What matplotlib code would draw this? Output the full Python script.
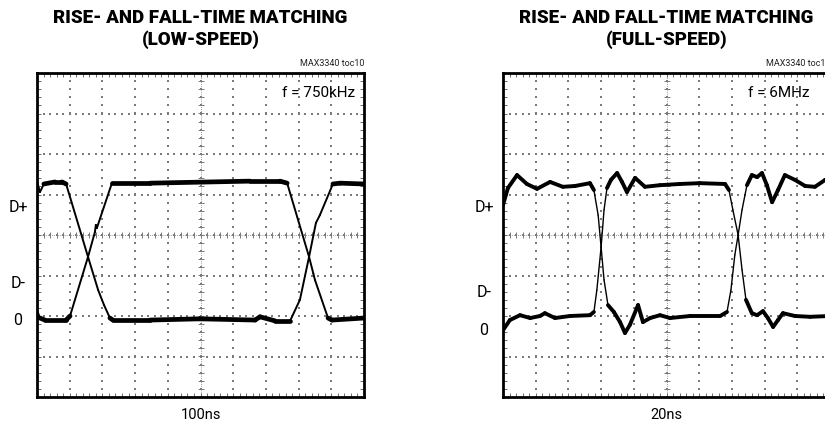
import numpy as np
import matplotlib
matplotlib.use("Agg")
import matplotlib.pyplot as plt
from matplotlib.ticker import MultipleLocator
from matplotlib.collections import LineCollection

plt.rcParams['font.family'] = ['Roboto', 'DejaVu Sans']

# --- data (x in divisions 0..10, y in divisions -4..4) ---
low_a_x = [0, 0.09, 0.21, 0.55, 0.76, 0.89, 1.56, 1.87, 2.05, 2.23, 2.32, 3.46, 4.98, 6.67, 6.82,
           7.28, 7.74, 8.04, 8.32, 8.53, 8.65, 9.05, 9.27, 10]
low_a_y = [1.33, 1.06, 1.26, 1.31, 1.31, 1.26, -0.54, -1.36, -1.73, -2.05, -2.10, -2.10, -2.07, -2.10, -2.02,
           -2.12, -2.12, -1.60, -0.54, 0.30, 0.49, 1.26, 1.28, 1.26]
low_b_x = [0, 0.09, 0.24, 0.89, 1.01, 1.56, 1.77, 1.80, 1.83, 2.29, 3.46, 6.51, 7.43, 7.65, 8.32,
           8.45, 8.50, 8.90, 9.02, 10]
low_b_y = [-1.85, -2.05, -2.10, -2.10, -2.0, -0.54, 0.07, 0.25, 0.17, 1.28, 1.28, 1.33, 1.33, 1.28, -0.54,
           -0.95, -1.11, -2.05, -2.10, -2.05]

full_a_x = [0, 0.15, 0.43, 0.73, 1.04, 1.44, 1.83, 2.20, 2.66, 2.78, 2.91, 3.00, 3.09, 3.21, 3.39, 3.58,
            3.73, 3.88, 4.13, 4.28, 4.50, 4.80, 5.11, 5.72, 6.64, 6.85, 6.97, 7.09, 7.19, 7.31, 7.46,
            7.61, 7.77, 7.92, 8.07, 8.23, 8.41, 8.62, 8.93, 9.24, 9.54, 9.85, 10]
full_a_y = [0.74, 1.16, 1.48, 1.26, 1.14, 1.31, 1.19, 1.21, 1.28, 1.11, 0.49, -0.30, -1.11, -1.73, -1.90,
            -2.15, -2.42, -2.22, -1.73, -2.15, -2.05, -1.98, -2.05, -2.0, -2.0, -1.90, -1.36, -0.49,
            0.0, 0.62, 1.23, 1.48, 1.43, 1.53, 1.23, 0.81, 1.11, 1.48, 1.36, 1.21, 1.19, 1.36, 1.31]
full_b_x = [0, 0.21, 0.52, 0.83, 1.13, 1.28, 1.59, 2.05, 2.66, 2.78, 2.87, 3.00, 3.09, 3.18, 3.30, 3.49,
            3.64, 3.79, 4.04, 4.34, 4.80, 5.41, 6.02, 6.79, 6.91, 7.03, 7.19, 7.31, 7.43, 7.61, 7.77,
            7.95, 8.10, 8.26, 8.41, 8.56, 8.93, 9.39, 10]
full_b_y = [-2.35, -2.10, -1.98, -2.05, -2.0, -1.93, -2.05, -2.0, -1.98, -1.90, -1.36, -0.30, 0.62, 1.16,
            1.36, 1.53, 1.31, 1.06, 1.41, 1.19, 1.23, 1.26, 1.28, 1.26, 1.11, 0.62, 0.0, -0.86, -1.60,
            -1.93, -1.98, -1.88, -2.05, -2.27, -2.10, -1.93, -2.0, -2.02, -2.0]

level_labels = ["D+", "D-", "0"]
low_label_y = [0.67, -1.19, -2.12]
full_label_y = [0.69, -1.43, -2.35]

panels = [
    dict(title="RISE- AND FALL-TIME MATCHING\n(LOW-SPEED)", tag="MAX3340 toc10", freq="f = 750kHz",
         scale="100ns", traces=[(low_a_x, low_a_y), (low_b_x, low_b_y)], labels_y=low_label_y,
         left=37, steep=1.5, thick=3.4, thin=1.4),
    dict(title="RISE- AND FALL-TIME MATCHING\n(FULL-SPEED)", tag="MAX3340 toc11", freq="f = 6MHz",
         scale="20ns", traces=[(full_a_x, full_a_y), (full_b_x, full_b_y)], labels_y=full_label_y,
         left=503, steep=3.5, thick=2.8, thin=1.0),
]

W, H = 825, 425
fig = plt.figure(figsize=(W / 100, H / 100), dpi=100)
grid_col = "#7a7a7a"

for p in panels:
    ax = fig.add_axes([p["left"] / W, 28 / H, 327 / W, 324 / H])
    ax.set_xlim(0, 10)
    ax.set_ylim(-4, 4)
    for s in ax.spines.values():
        s.set_linewidth(2.0)
    ax.xaxis.set_major_locator(MultipleLocator(0.2))
    ax.yaxis.set_major_locator(MultipleLocator(0.2))
    ax.tick_params(direction="in", length=3, width=0.6, color="#555555",
                   top=True, right=True, labelbottom=False, labelleft=False)

    # dotted graticule
    fine = np.arange(0, 10.01, 0.2)
    finey = np.arange(-4, 4.01, 0.2)
    for k in range(1, 10):
        ax.scatter(np.full(finey.size, k), finey, s=1.2, marker="s", color=grid_col, lw=0, zorder=1)
    for k in range(-3, 4):
        ax.scatter(fine, np.full(fine.size, k), s=1.2, marker="s", color=grid_col, lw=0, zorder=1)
    ax.axhline(0, color=grid_col, lw=0.6, ls=(0, (1, 1.5)), zorder=1)
    ax.axvline(5, color=grid_col, lw=0.6, ls=(0, (1, 1.5)), zorder=1)
    ax.plot(fine, np.zeros(fine.size), ls="none", marker="|", ms=4, mew=0.7, color=grid_col, zorder=1)
    ax.plot(np.full(finey.size, 5), finey, ls="none", marker="_", ms=4, mew=0.7, color=grid_col, zorder=1)

    # traces: thin steep edges, thick noisy flat parts
    for tx, ty in p["traces"]:
        pts = np.column_stack([tx, ty])
        segs = np.stack([pts[:-1], pts[1:]], axis=1)
        slope = np.abs(np.diff(ty) / np.diff(tx))
        widths = np.where(slope < p["steep"], p["thick"], p["thin"])
        ax.add_collection(LineCollection(segs, colors="black", linewidths=widths,
                                         capstyle="round", joinstyle="round", zorder=3))

    for lab, ly in zip(level_labels, p["labels_y"]):
        ax.text(-0.58, ly, lab, ha="center", va="center", fontsize=11.5, clip_on=False)
    ax.text(7.5, 3.5, p["freq"], ha="left", va="center", fontsize=11)
    ax.text(10, 4.12, p["tag"], ha="right", va="bottom", fontsize=6.5, color="#222222", clip_on=False)
    ax.text(5, -4.45, p["scale"], ha="center", va="center", fontsize=10.5, clip_on=False)

    cx = (p["left"] + 327 / 2) / W
    fig.text(cx, 1 - 29 / H, p["title"], ha="center", va="center", fontsize=13.5,
             fontweight="black", linespacing=1.25)

fig.savefig("out.png", dpi=100)
